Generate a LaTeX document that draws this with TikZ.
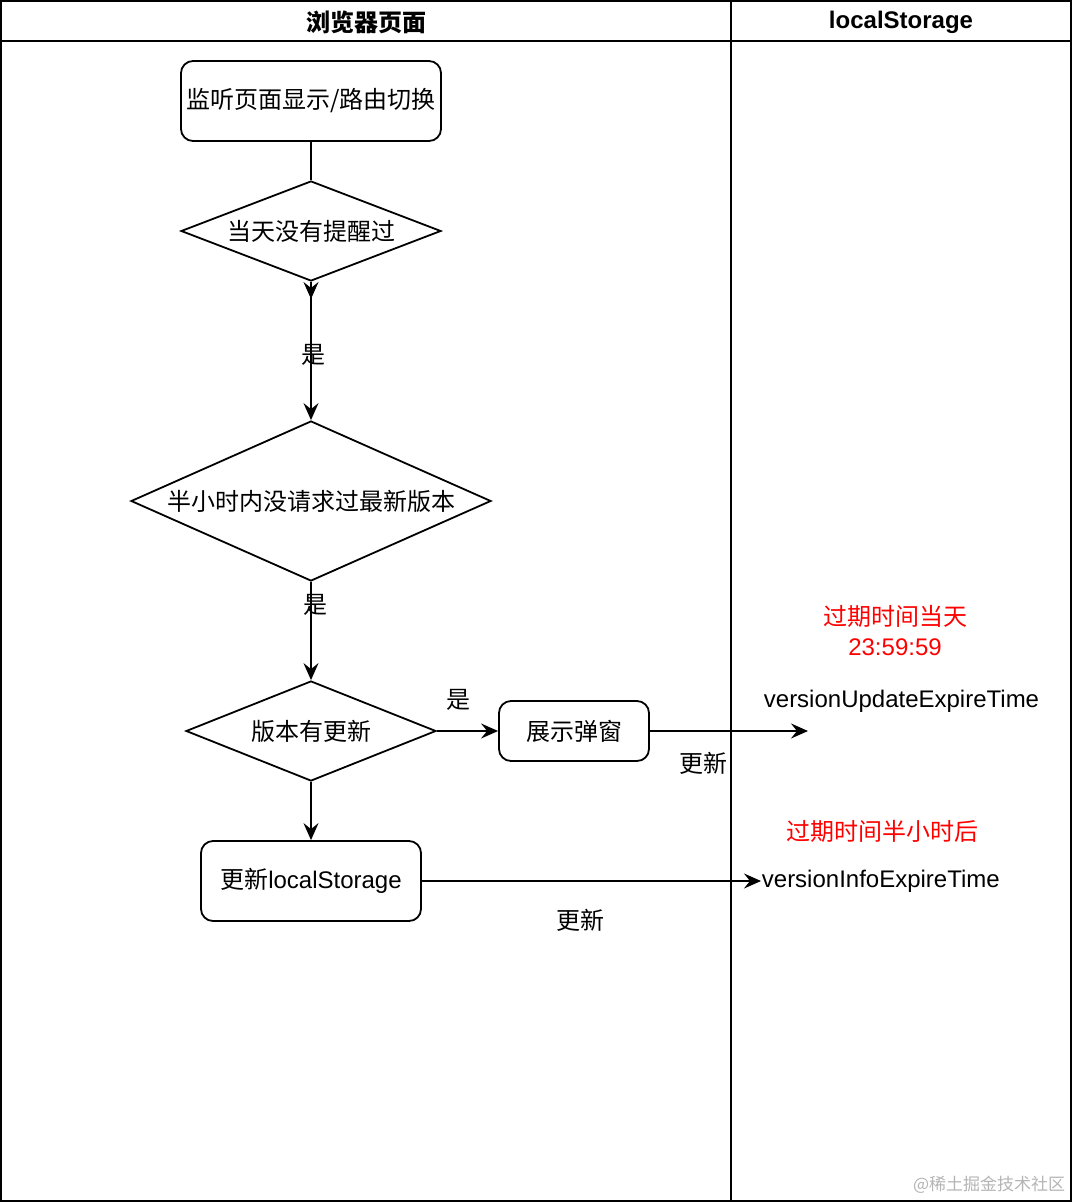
\documentclass[tikz,border=0pt]{standalone}
\usepackage{fontspec}
\setmainfont{Liberation Sans}
\newfontfamily\cjk{Noto Sans CJK SC}
\usetikzlibrary{shapes.geometric,arrows.meta}
\definecolor{redtxt}{HTML}{FF0000}
\definecolor{wmark}{HTML}{B4B4B4}
\begin{document}
\begin{tikzpicture}[x=1pt,y=-1pt,
  line width=1.8pt,
  font=\fontsize{24}{28}\selectfont,
  >={Stealth[length=17pt,width=15pt,inset=6pt]},
  rbox/.style={draw,rounded corners=12pt,fill=white,inner sep=0pt},
  dmd/.style={draw,diamond,fill=white,inner sep=0pt},
  lbl/.style={inner sep=0pt},
  redlbl/.style={inner sep=0pt,text=redtxt,align=center}]
\useasboundingbox (0,0) rectangle (1072,1202);
% swimlane frame
\draw (1,1) rectangle (1071,1201);
\draw (1,41) -- (1071,41);
\draw (731,1) -- (731,1201);
\node[lbl] (h1) at (366,22) {\cjk\bfseries 浏览器页面};
\node[lbl] (h2) at (901,22) {\bfseries localStorage};
% nodes
\node[rbox,minimum width=260pt,minimum height=80pt] (n1) at (311,101) {{\cjk 监听页面显示/路由切换}};
\node[dmd,aspect=2.6,minimum width=260pt,minimum height=100pt] (d1) at (311,231) {{\cjk 当天没有提醒过}};
\node[dmd,aspect=2.25,minimum width=360pt,minimum height=160pt] (d2) at (311,501) {{\cjk 半小时内没请求过最新版本}};
\node[dmd,aspect=2.5,minimum width=250pt,minimum height=100pt] (d3) at (311,731) {{\cjk 版本有更新}};
\node[rbox,minimum width=150pt,minimum height=60pt] (n2) at (574,731) {{\cjk 展示弹窗}};
\node[rbox,minimum width=220pt,minimum height=80pt] (n3) at (311,881) {{\cjk 更新}localStorage};
\coordinate (t1) at (311,299);
\coordinate (e1) at (808,731);
\node[lbl,anchor=west] (s1) at (763,701) {versionUpdateExpireTime};
\node[lbl,anchor=west] (s2) at (761,881) {versionInfoExpireTime};
\node[redlbl] (r1) at (895,631) {{\cjk 过期时间当天}\\[2pt]23:59:59};
\node[redlbl] (r2) at (882,831) {{\cjk 过期时间半小时后}};
% connectors
\draw (n1.south) -- (d1.north);
\draw[->] (d1.south) -- (t1);
\draw[->] (d1.south) -- (d2.north);
\draw[->] (d2.south) -- (d3.north);
\draw[->] (d3.east) -- (n2.west);
\draw[->] (n2.east) -- (e1);
\draw[->] (d3.south) -- (n3.north);
\draw[->] (n3.east) -- (s2.west);
% edge labels
\node[lbl] (l1) at (313,355) {\cjk 是};
\node[lbl] (l2) at (315,605) {\cjk 是};
\node[lbl] (l3) at (458,700) {\cjk 是};
\node[lbl] (l4) at (703,763) {\cjk 更新};
\node[lbl] (l5) at (580,920) {\cjk 更新};
% watermark
\node[lbl,text=wmark,font=\fontsize{17}{20}\selectfont,anchor=east] (wm) at (1066,1185) {{\cjk @稀土掘金技术社区}};
\end{tikzpicture}
\end{document}
